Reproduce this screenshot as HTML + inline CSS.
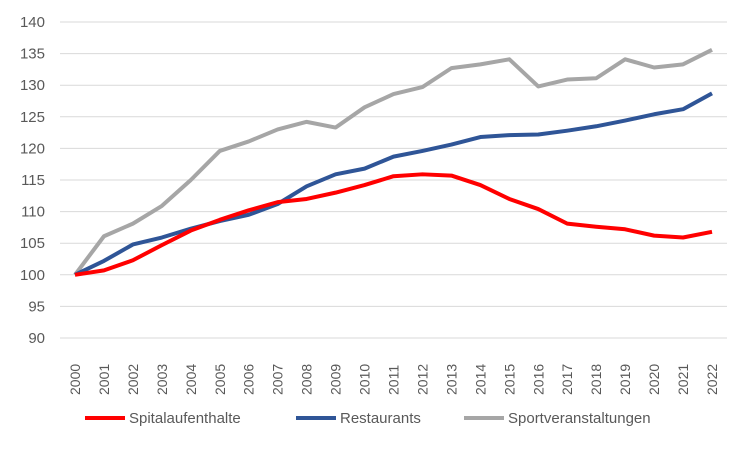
<!DOCTYPE html>
<html><head><meta charset="utf-8"><style>body{margin:0;background:#fff}svg{display:block}text{font-family:"Liberation Sans",sans-serif;fill:#595959}</style></head><body>
<svg width="750" height="450" viewBox="0 0 750 450" xmlns="http://www.w3.org/2000/svg">
<g id="grid" stroke="#d9d9d9" stroke-width="1"></g>
<g id="yl" font-size="15" text-anchor="end"></g>
<g id="xl" font-size="14"></g>
<g id="series" fill="none" stroke-width="4" stroke-linejoin="round"></g>
<g font-size="15">
<line x1="85" y1="418" x2="125" y2="418" stroke="#ff0000" stroke-width="4"/><text x="129" y="423">Spitalaufenthalte</text>
<line x1="296" y1="418" x2="336" y2="418" stroke="#2f5597" stroke-width="4"/><text x="340" y="423">Restaurants</text>
<line x1="464" y1="418" x2="504" y2="418" stroke="#a6a6a6" stroke-width="4"/><text x="508" y="423">Sportveranstaltungen</text>
</g>
<script>
const ns="http://www.w3.org/2000/svg";
const Y=v=>22+(140-v)*6.32, X=i=>75+i*28.955;
const g=document.getElementById('grid'),yl=document.getElementById('yl'),xl=document.getElementById('xl'),s=document.getElementById('series');
for(let v=90;v<=140;v+=5){const l=document.createElementNS(ns,'line');l.setAttribute('x1',60);l.setAttribute('x2',727);l.setAttribute('y1',Y(v));l.setAttribute('y2',Y(v));g.appendChild(l);
const t=document.createElementNS(ns,'text');t.setAttribute('x',45);t.setAttribute('y',Y(v)+5);t.textContent=v;yl.appendChild(t);}
for(let i=0;i<23;i++){const t=document.createElementNS(ns,'text');t.setAttribute('transform',`translate(${X(i)+5},395) rotate(-90)`);t.textContent=2000+i;xl.appendChild(t);}
const d=[
["#a6a6a6",[100,106.1,108.1,110.9,115,119.6,121.1,123,124.2,123.3,126.5,128.6,129.7,132.7,133.3,134.1,129.8,130.9,131.1,134.1,132.8,133.3,135.6]],
["#2f5597",[100,102.2,104.8,105.9,107.3,108.5,109.5,111.2,114,115.9,116.8,118.7,119.6,120.6,121.8,122.1,122.2,122.8,123.5,124.4,125.4,126.2,128.7]],
["#ff0000",[100,100.7,102.3,104.7,107,108.7,110.2,111.5,112,113,114.2,115.6,115.9,115.7,114.2,112,110.4,108.1,107.6,107.2,106.2,105.9,106.8]]];
for(const [c,a] of d){const p=document.createElementNS(ns,'polyline');p.setAttribute('stroke',c);p.setAttribute('points',a.map((v,i)=>X(i)+','+Y(v)).join(' '));s.appendChild(p);}
</script>
</svg></body></html>
